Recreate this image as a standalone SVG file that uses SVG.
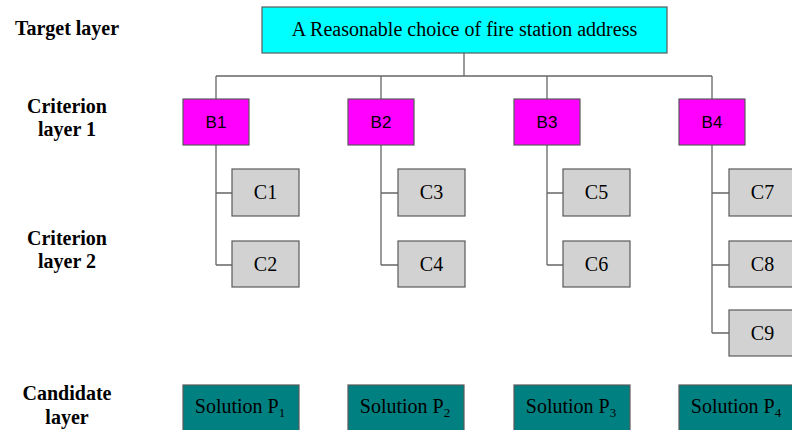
<svg xmlns="http://www.w3.org/2000/svg" width="792" height="430" viewBox="0 0 792 430">
<style>
.box{stroke:#5a5a5a;stroke-width:1.2}
.goal{fill:#00FFFF}
.b{fill:#FF00FF}
.c{fill:#D2D2D2}
.p{fill:#008080}
.lbl{font-family:"Liberation Serif","Times New Roman","DejaVu Serif",serif;font-weight:700;font-size:20px;fill:#000;text-anchor:middle}
.t{font-family:"Liberation Serif","Times New Roman",serif;font-size:20px;fill:#000;text-anchor:middle}
.bt{font-family:"Liberation Sans",Arial,sans-serif;font-size:17px;fill:#000;text-anchor:middle}
.con{fill:none;stroke:#666;stroke-width:1.3}
</style>
<rect width="792" height="430" fill="#fff"/>
<g id="labels">
<text class="lbl" x="67" y="35">Target layer</text>
<text class="lbl" x="67" y="113">Criterion</text>
<text class="lbl" x="67" y="136">layer  1</text>
<text class="lbl" x="67" y="245">Criterion</text>
<text class="lbl" x="67" y="268">layer  2</text>
<text class="lbl" x="67" y="400">Candidate</text>
<text class="lbl" x="67" y="424">layer</text>
</g>
<g id="connectors">
<path class="con" d="M464,53 V76 M216,76 H712 M216,76 V99 M381,76 V99 M547,76 V99 M712,76 V99"/>
<path class="con" d="M216,145 V265 M216,193 H232 M216,265 H232"/>
<path class="con" d="M381,145 V265 M381,193 H398 M381,265 H398"/>
<path class="con" d="M547,145 V265 M547,193 H563 M547,265 H563"/>
<path class="con" d="M712,145 V333 M712,193 H729 M712,265 H729 M712,333 H729"/>
</g>
<g id="goal">
<rect class="box goal" x="262" y="7" width="405" height="46"/>
<text class="t" x="464.5" y="36" font-size="21">A Reasonable choice of fire station address</text>
</g>
<g id="B1"><rect class="box b" x="183" y="99" width="66" height="46"/><text class="bt" x="216" y="128">B1</text></g>
<g id="B2"><rect class="box b" x="348" y="99" width="66" height="46"/><text class="bt" x="381" y="128">B2</text></g>
<g id="B3"><rect class="box b" x="514" y="99" width="66" height="46"/><text class="bt" x="547" y="128">B3</text></g>
<g id="B4"><rect class="box b" x="679" y="99" width="66" height="46"/><text class="bt" x="712" y="128">B4</text></g>
<g id="C1"><rect class="box c" x="232" y="169" width="67" height="47"/><text class="t" x="265.5" y="199">C1</text></g>
<g id="C2"><rect class="box c" x="232" y="241" width="67" height="46"/><text class="t" x="265.5" y="271">C2</text></g>
<g id="C3"><rect class="box c" x="398" y="169" width="67" height="47"/><text class="t" x="431.5" y="199">C3</text></g>
<g id="C4"><rect class="box c" x="398" y="241" width="67" height="46"/><text class="t" x="431.5" y="271">C4</text></g>
<g id="C5"><rect class="box c" x="563" y="169" width="67" height="47"/><text class="t" x="596.5" y="199">C5</text></g>
<g id="C6"><rect class="box c" x="563" y="241" width="67" height="46"/><text class="t" x="596.5" y="271">C6</text></g>
<g id="C7"><rect class="box c" x="729" y="169" width="67" height="47"/><text class="t" x="762.5" y="199">C7</text></g>
<g id="C8"><rect class="box c" x="729" y="241" width="67" height="46"/><text class="t" x="762.5" y="271">C8</text></g>
<g id="C9"><rect class="box c" x="729" y="310" width="67" height="46"/><text class="t" x="762.5" y="340">C9</text></g>
<g id="P1"><rect class="box p" x="183" y="385" width="116" height="50"/><text class="t" x="240" y="413">Solution P<tspan font-size="13" dy="4">1</tspan></text></g>
<g id="P2"><rect class="box p" x="348" y="385" width="116" height="50"/><text class="t" x="405" y="413">Solution P<tspan font-size="13" dy="4">2</tspan></text></g>
<g id="P3"><rect class="box p" x="514" y="385" width="116" height="50"/><text class="t" x="571" y="413">Solution P<tspan font-size="13" dy="4">3</tspan></text></g>
<g id="P4"><rect class="box p" x="679" y="385" width="116" height="50"/><text class="t" x="736" y="413">Solution P<tspan font-size="13" dy="4">4</tspan></text></g>
</svg>
